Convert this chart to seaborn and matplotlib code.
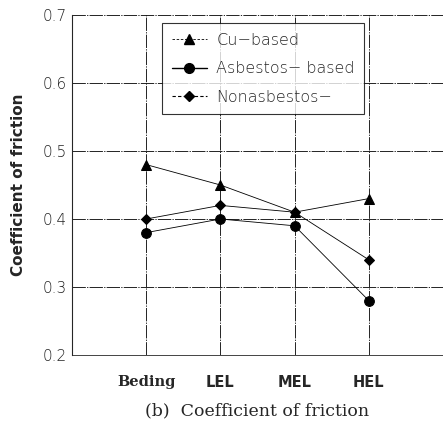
import matplotlib
matplotlib.use("Agg")
import matplotlib.pyplot as plt
from matplotlib.lines import Line2D
import seaborn as sns
import pandas as pd

categories = ["Beding", "LEL", "MEL", "HEL"]
cu_based = [0.48, 0.45, 0.41, 0.43]
asbestos_based = [0.38, 0.40, 0.39, 0.28]
nonasbestos = [0.40, 0.42, 0.41, 0.34]
series_names = ["Cu-based", "Asbestos-based", "Nonasbestos-"]
legend_labels = ["Cu\u2212based", "Asbestos\u2212 based", "Nonasbestos\u2212"]
y_ticks = [0.2, 0.3, 0.4, 0.5, 0.6, 0.7]

rows = []
for name, vals in zip(series_names, [cu_based, asbestos_based, nonasbestos]):
    for c, v in zip(categories, vals):
        rows.append({"condition": c, "cof": v, "series": name})
df = pd.DataFrame(rows)

sns.set_style("white")
fig = plt.figure(figsize=(4.43, 4.23), dpi=100)
ax = fig.add_axes([72/443, 68/423, 1 - 72/443, (355 - 15)/423])

markers = {"Cu-based": "^", "Asbestos-based": "o", "Nonasbestos-": "D"}
msizes = {"Cu-based": 7, "Asbestos-based": 7, "Nonasbestos-": 5.5}
for name in series_names:
    sub = df[df.series == name]
    sns.lineplot(data=sub, x="condition", y="cof", ax=ax, color="black",
                 marker=markers[name], markersize=msizes[name], linewidth=0.6,
                 markeredgecolor="black", legend=False, sort=False)

ax.set_xlim(-1, 4)
ax.set_ylim(0.2, 0.7)
ax.set_yticks(y_ticks)
ax.set_yticklabels([f"{t:.1f}" for t in y_ticks], fontsize=11, fontweight="light", color="#222222")
ax.set_xticks(range(len(categories)))
ax.set_xticklabels([])
for i, c in enumerate(categories):
    fam = "DejaVu Serif" if c == "Beding" else "DejaVu Sans"
    ax.text(i, -0.08, c, transform=ax.get_xaxis_transform(), ha="center", va="center",
            fontsize=10.5, fontweight="bold", family=fam)
ax.grid(True, color="black", linewidth=0.6, linestyle=(0, (16, 1.5, 1.5, 1.5)))
ax.set_axisbelow(True)
for s in ["top", "right"]:
    ax.spines[s].set_visible(False)
ax.spines["left"].set_linewidth(0.8)
ax.spines["bottom"].set_linewidth(0.6)
ax.tick_params(axis="both", length=0, pad=4)
ax.set_xlabel("")
ax.set_ylabel("Coefficient of friction", fontsize=11, fontweight="bold", labelpad=12)

handles = [
    Line2D([], [], color="black", marker="^", markersize=7, linewidth=0.6, linestyle=(0, (3, 2))),
    Line2D([], [], color="black", marker="o", markersize=7, linewidth=1.0),
    Line2D([], [], color="black", marker="D", markersize=5.5, linewidth=0.8, linestyle=(0, (3, 2))),
]
leg = ax.legend(handles, legend_labels, loc="upper left", bbox_to_anchor=(0.221, 1.0),
                fontsize=11.5, frameon=True, fancybox=False, edgecolor="black",
                handlelength=2.2, labelspacing=0.85, borderpad=0.6, handletextpad=0.6)
leg.get_frame().set_linewidth(0.8)
for t in leg.get_texts():
    t.set_fontweight("light")

fig.text(0.5 + 36/443, 12/423, "(b)  Coefficient of friction", ha="center", va="center",
         fontsize=12.5, family="DejaVu Serif")

fig.savefig("out.png", dpi=100)
